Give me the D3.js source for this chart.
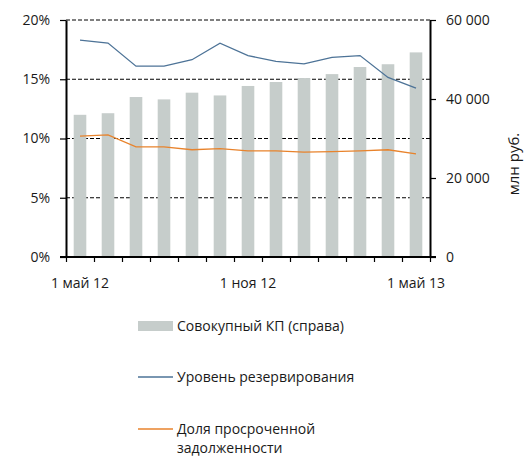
<!DOCTYPE html>
<html>
<head>
<meta charset="utf-8">
<script src="https://cdn.jsdelivr.net/npm/d3@7"></script>
<style>
  body { margin: 0; background: #fff; }
  svg text { font-family: "Open Sans", sans-serif; font-size: 14px; fill: #1a1a1a; }
  .axis path, .axis line { stroke: #000; }
  .axis path { stroke-width: 2px; }
  .axis line { stroke-width: 1.2px; }
</style>
</head>
<body>
<div id="chart"></div>
<script>
// DATA
// ------------------------------------------------------------------

var months = ["май 12", "июн 12", "июл 12", "авг 12", "сен 12", "окт 12", "ноя 12",
              "дек 12", "янв 13", "фев 13", "мар 13", "апр 13", "май 13"];

// Совокупный КП, млн руб. (right axis)
var portfolio = [36000, 36400, 40500, 39900, 41600, 40900, 43300,
                 44300, 45300, 46300, 48100, 48800, 51800];

// Уровень резервирования, %
var reserves = [18.3, 18.05, 16.1, 16.1, 16.65, 18.05, 17.0,
                16.5, 16.3, 16.85, 17.0, 15.15, 14.25];

// Доля просроченной задолженности, %
var overdue = [10.2, 10.3, 9.3, 9.3, 9.05, 9.15, 8.95,
               8.95, 8.85, 8.9, 8.95, 9.05, 8.7];

var leftTicks = [0, 5, 10, 15, 20];
var rightTicks = [0, 20000, 40000, 60000];
var xLabels = [[0, "1 май 12"], [6, "1 ноя 12"], [12, "1 май 13"]];

var legendItems = [
  {type: "bar",  color: "#c6cdcb", lines: ["Совокупный КП (справа)"]},
  {type: "line", color: "#4d7397", lines: ["Уровень резервирования"]},
  {type: "line", color: "#e8832c", lines: ["Доля просроченной", "задолженности"]}
];

// CANVAS
// ------------------------------------------------------------------

var width = 532,
    height = 459;

var svg = d3.select("#chart")
    .append("svg")
    .attr("width", width)
    .attr("height", height);

var plotLeft = 66, plotRight = 430, plotTop = 20, plotBottom = 257;

// SCALES
// ------------------------------------------------------------------

var xScale = d3.scaleBand()
    .domain(months)
    .range([plotLeft, plotRight])
    .paddingInner(0.55)
    .paddingOuter(0.275);

var xTickScale = d3.scaleLinear()
    .domain([0, months.length])
    .range([plotLeft, plotRight]);

var yLeft = d3.scaleLinear().domain([0, 20]).range([plotBottom, plotTop]);
var yRight = d3.scaleLinear().domain([0, 60000]).range([plotBottom, plotTop]);

// GRID
// ------------------------------------------------------------------

svg.append("g")
  .selectAll("line")
  .data(leftTicks.filter(function(d) { return d > 0; }))
  .join("line")
    .attr("x1", plotLeft)
    .attr("x2", plotRight)
    .attr("y1", function(d) { return yLeft(d); })
    .attr("y2", function(d) { return yLeft(d); })
    .attr("stroke", "#000")
    .attr("stroke-width", 1)
    .attr("stroke-dasharray", "4,2");

// BARS
// ------------------------------------------------------------------

svg.append("g")
  .selectAll("rect")
  .data(portfolio)
  .join("rect")
    .attr("x", function(d, i) { return xScale(months[i]); })
    .attr("y", function(d) { return yRight(d); })
    .attr("width", xScale.bandwidth())
    .attr("height", function(d) { return plotBottom - yRight(d); })
    .attr("fill", legendItems[0].color);

// LINES
// ------------------------------------------------------------------

var line = d3.line()
    .x(function(d, i) { return xScale(months[i]) + xScale.bandwidth() / 2; })
    .y(function(d) { return yLeft(d); });

svg.append("path")
    .attr("d", line(reserves))
    .attr("fill", "none")
    .attr("stroke", legendItems[1].color)
    .attr("stroke-width", 1.3);

svg.append("path")
    .attr("d", line(overdue))
    .attr("fill", "none")
    .attr("stroke", legendItems[2].color)
    .attr("stroke-width", 1.3);

// AXES
// ------------------------------------------------------------------

svg.append("g")
    .attr("class", "axis")
    .attr("transform", "translate(" + plotLeft + ",0)")
    .call(d3.axisLeft(yLeft)
      .tickValues(leftTicks)
      .tickSize(6)
      .tickSizeOuter(0)
      .tickPadding(10)
      .tickFormat(function(d) { return d + "%"; }));

svg.append("g")
    .attr("class", "axis")
    .attr("transform", "translate(" + plotRight + ",0)")
    .call(d3.axisRight(yRight)
      .tickValues(rightTicks)
      .tickSize(6)
      .tickSizeOuter(0)
      .tickPadding(10)
      .tickFormat(function(d) { return d3.format(",")(d).replace(",", " "); }));

var gBottom = svg.append("g")
    .attr("class", "axis")
    .attr("transform", "translate(0," + plotBottom + ")")
    .call(d3.axisBottom(xTickScale)
      .tickValues(d3.range(months.length + 1))
      .tickSize(5)
      .tickSizeOuter(0)
      .tickFormat(""));

gBottom.select(".domain").attr("d", "M" + (plotLeft - 6) + ",0H" + (plotRight + 6));

svg.selectAll(".axis text")
    .style("font-family", "'Open Sans', sans-serif")
    .style("font-size", "14px")
    .attr("fill", "#1a1a1a");

svg.append("g")
  .selectAll("text")
  .data(xLabels)
  .join("text")
    .attr("x", function(d) { return xScale(months[d[0]]) + xScale.bandwidth() / 2; })
    .attr("y", 288)
    .attr("text-anchor", "middle")
    .text(function(d) { return d[1]; });

svg.append("text")
    .attr("transform", "translate(519,164) rotate(-90)")
    .attr("text-anchor", "middle")
    .style("font-size", "15px")
    .text("млн руб.");

// LEGEND
// ------------------------------------------------------------------

var legendY = [326, 377, 429];

var legend = svg.append("g")
  .selectAll("g")
  .data(legendItems)
  .join("g")
    .attr("transform", function(d, i) { return "translate(138," + legendY[i] + ")"; });

legend.each(function(d) {
  var g = d3.select(this);
  if (d.type === "bar") {
    g.append("rect")
      .attr("x", 0).attr("y", -5)
      .attr("width", 35).attr("height", 10)
      .attr("fill", d.color);
  } else {
    g.append("line")
      .attr("x1", 0).attr("x2", 35)
      .attr("y1", 0).attr("y2", 0)
      .attr("stroke", d.color)
      .attr("stroke-width", 1.3);
  }
  g.selectAll("text")
    .data(d.lines)
    .join("text")
      .attr("x", 39)
      .attr("y", function(t, j) { return 5 + j * 19; })
      .text(function(t) { return t; });
});
</script>
</body>
</html>
